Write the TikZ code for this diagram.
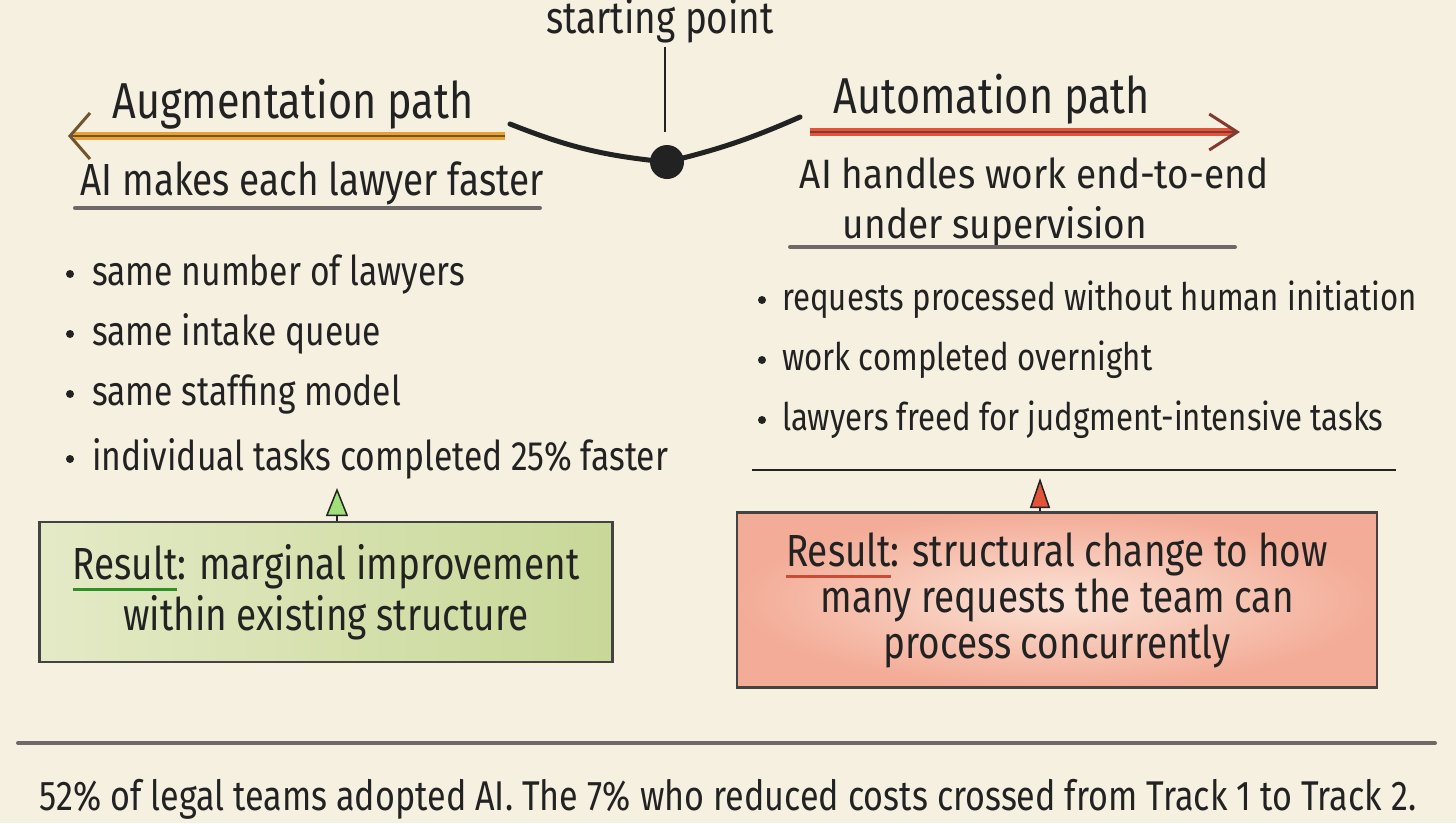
\documentclass[tikz,border=0pt]{standalone}
\usepackage{fontspec}
\setmainfont{Fira Sans}[FakeStretch=0.82]
\usepackage{xcolor}
\usetikzlibrary{positioning,arrows.meta,calc}

\definecolor{paper}{HTML}{F6F0E1}
\definecolor{ink}{HTML}{222222}
\definecolor{inkgray}{HTML}{6E6868}
\definecolor{augorange}{HTML}{EBA035}
\definecolor{autored}{HTML}{E2533A}
\definecolor{leafgreen}{HTML}{E4EAC6}
\definecolor{leafdeep}{HTML}{C8D898}
\definecolor{rosefill}{HTML}{FBE2D5}
\definecolor{roseedge}{HTML}{F3AC97}

% underline one word in a colour
\newcommand{\markword}[2]{\leavevmode\setbox0\hbox{#2}\rlap{\color{#1}\rule[-12pt]{\wd0}{3.5pt}}\box0}

\tikzset{
	handtext/.style={font=\fontsize{45}{50}\selectfont, text=ink, inner sep=0pt, anchor=base},
	headtext/.style={font=\fontsize{50.5}{56}\selectfont, text=ink, inner sep=0pt, anchor=base},
	bullettext/.style={font=\fontsize{#1}{46}\selectfont, text=ink, inner sep=0pt, anchor=base west},
	resultbox/.style={draw=ink!85, line width=2.5pt, rectangle, align=center, inner sep=0pt,
		font=\fontsize{45}{#1}\selectfont, text=ink},
	pencil/.style={line width=4pt, inkgray, line cap=round},
}

\begin{document}
\begin{tikzpicture}[x=1pt,y=-1pt]
				\useasboundingbox (0,0) rectangle (1456,823);
				\fill[paper] (0,0) rectangle (1456,823);
				% Starting point and the fork
				\node[handtext] (stlabel) at (660,33) {starting point};
				\coordinate [] (stem) at (665,132);
				\node[circle, fill=ink, minimum size=34pt, inner sep=0pt] (start) at (667,162) {};
				\coordinate [] (vleft) at (510,124);
				\coordinate [] (vright) at (800,117);
				\draw[ink, line width=1.5pt] ([yshift=-4pt]stlabel.south -| stem) -- (stem);
				\draw[ink, line width=5pt, line cap=round] (vleft) to[bend right=8] (start.center);
				\draw[ink, line width=5pt, line cap=round] (start.center) to[bend right=5] (vright);
				% Augmentation path (left)
				\node[headtext] (aughead) at (293,118) {Augmentation path};
				\coordinate [] (augstart) at (505,136);
				\coordinate [] (augend) at (68,136);
				\draw[augorange, line width=8pt] (augstart) -- ([xshift=6pt]augend);
				\path[-{Straight Barb[length=20pt,width=46pt,line width=3pt]}] (augstart) edge[line width=1.5pt, ink!60!augorange] (augend);
				\node[handtext] (augsub) at (312,195) {AI makes each lawyer faster};
				\coordinate [] (augul1) at (75,208);
				\coordinate [] (augul2) at (540,208);
				\draw[pencil] (augul1) -- (augul2);
				\foreach \yy/\txt [count=\i] in {285/same number of lawyers, 345/same intake queue, 405/same staffing model, 470/individual tasks completed 25\% faster}
				{
					\node[bullettext=41] (aug\i) at (92,\yy) {\txt};
					\fill[ink] ($(aug\i.base west)+(-22,-11)$) circle (4);
				}
				% Automation path (right)
				\node[headtext] (autohead) at (992,113) {Automation path};
				\coordinate [] (autostart) at (810,132);
				\coordinate [] (autoend) at (1240,132);
				\draw[autored, line width=8pt] (autostart) -- ([xshift=-6pt]autoend);
				\path[-{Straight Barb[length=28pt,width=36pt,line width=3pt]}] (autostart) edge[line width=1.5pt, ink!50!autored] (autoend);
				\node[handtext, font=\fontsize{41}{46}\selectfont, xscale=1.1] (autosub1) at (1034,188) {AI handles work end-to-end};
				\node[handtext, font=\fontsize{41}{46}\selectfont, xscale=1.1] (autosub2) at (995,238) {under supervision};
				\coordinate [] (autoul1) at (790,247);
				\coordinate [] (autoul2) at (1235,247);
				\draw[pencil] (autoul1) -- (autoul2);
				\foreach \yy/\txt [count=\i] in {310/requests processed without human initiation, 370/work completed overnight, 430/lawyers freed for judgment-intensive tasks}
				{
					\node[bullettext=38] (auto\i) at (782,\yy) {\txt};
					\fill[ink] ($(auto\i.base west)+(-20,-10)$) circle (4);
				}
				\coordinate [] (autorule1) at (752,470);
				\coordinate [] (autorule2) at (1396,470);
				\draw[ink, line width=2pt] (autorule1) -- (autorule2);
				% Result boxes
				\node[resultbox=51, minimum width=573pt, minimum height=140pt, left color=leafgreen, right color=leafdeep] (augres) at (326,592)
					{\markword{leafdeep!40!green!60!black}{Result}: marginal improvement\\within existing structure};
				\node[resultbox=46, minimum width=640pt, minimum height=175pt, inner color=rosefill, outer color=roseedge] (autores) at (1057,600)
					{\markword{autored!90!black}{Result}: structural change to how\\many requests the team can\\process concurrently};
				\coordinate [] (augtip) at (337,488);
				\coordinate [] (autotip) at (1040,478);
				\draw[ink, line width=1.5pt, -{Triangle[length=28pt,width=22pt,fill=leafdeep!80!green]}] (augres.north -| augtip) -- (augtip);
				\draw[ink, line width=1.5pt, -{Triangle[length=30pt,width=20pt,fill=autored]}] (autores.north -| autotip) -- (autotip);
				% Bottom note
				\coordinate [] (botrule1) at (18,743);
				\coordinate [] (botrule2) at (1435,743);
				\draw[pencil] (botrule1) -- (botrule2);
				\node[handtext, font=\fontsize{41.6}{48}\selectfont] (note) at (728,810) {52\% of legal teams adopted AI. The 7\% who reduced costs crossed from Track 1 to Track 2.};
			\end{tikzpicture}
\end{document}
